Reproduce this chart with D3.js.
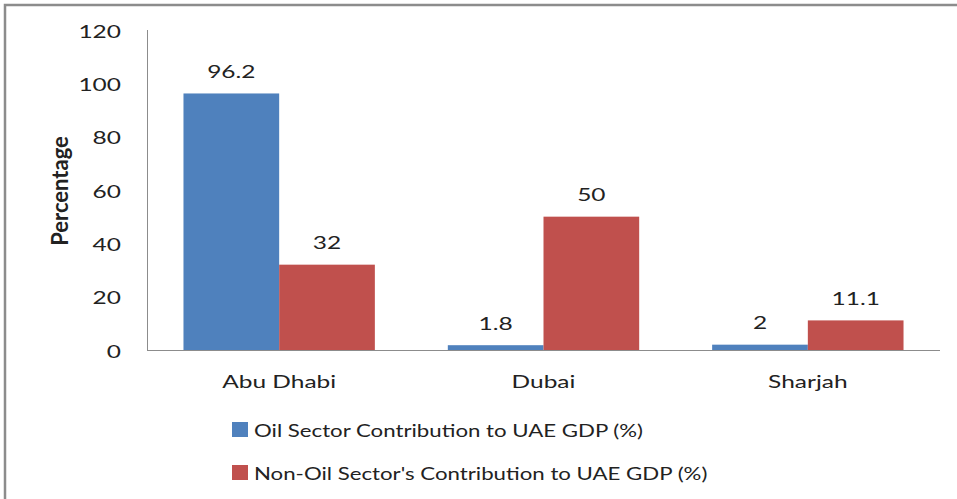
<!DOCTYPE html>
<html><head><meta charset="utf-8">
<script src="https://cdn.jsdelivr.net/npm/d3@7"></script>
<style>html,body{margin:0;padding:0;background:#fff;}svg{display:block;}</style>
</head><body><svg id="c" width="957" height="499"></svg>
<script>
const categories = ["Abu Dhabi", "Dubai", "Sharjah"];
const seriesNames = ["Oil Sector Contribution to UAE GDP (%)", "Non-Oil Sector's Contribution to UAE GDP (%)"];
const oilValues = [96.2, 1.8, 2];
const nonOilValues = [32, 50, 11.1];
const yTicks = [0, 20, 40, 60, 80, 100, 120];
const colors = ["#4F81BD", "#C0504D"];

const svg = d3.select("#c");
const FONT = "Lato, 'Open Sans', sans-serif";
const SX = 1.40; // horizontal stretch of the reference
const TXT = "#222";

function txt(g, x, yy, s, size, anchor, sx) {
  return g.append("g").attr("transform", `translate(${x},${yy}) scale(${sx || SX},1)`)
    .append("text").text(s).attr("font-family", FONT).attr("font-size", size)
    .attr("fill", TXT).attr("text-anchor", anchor || "middle");
}

// outer border
svg.append("rect").attr("x", 5).attr("y", 5).attr("width", 1000).attr("height", 600)
  .attr("fill", "none").attr("stroke", "#8c8c8c").attr("stroke-width", 2.5);

const pLeft = 147, pRight = 940, pTop = 30, pBottom = 350;
const x0 = d3.scaleBand().domain(categories).range([pLeft, pRight]).paddingInner(0.276).paddingOuter(0.138);
const x1 = d3.scaleBand().domain([0, 1]).range([0, x0.bandwidth()]);
const y = d3.scaleLinear().domain([0, 120]).range([pBottom, pTop]);

// y tick labels
const gy = svg.append("g");
yTicks.forEach(v => txt(gy, 121, y(v) + 7.5, String(v), 17.5, "end"));

// bars
const data = categories.map((c, i) => ({c, vals: [oilValues[i], nonOilValues[i]]}));
const gb = svg.append("g");
data.forEach(d => {
  d.vals.forEach((v, s) => {
    gb.append("rect").attr("x", x0(d.c) + x1(s)).attr("y", y(v))
      .attr("width", x1.bandwidth()).attr("height", y(0) - y(v)).attr("fill", colors[s]);
    txt(gb, x0(d.c) + x1(s) + x1.bandwidth() / 2, y(v) - 15.5, String(v), 17.5, "middle");
  });
});

// axes lines
svg.append("line").attr("x1", pLeft + 0.5).attr("x2", pLeft + 0.5).attr("y1", pTop).attr("y2", pBottom)
  .attr("stroke", "#8c8c8c").attr("stroke-width", 1);
svg.append("line").attr("x1", pLeft).attr("x2", pRight).attr("y1", pBottom + 0.5).attr("y2", pBottom + 0.5)
  .attr("stroke", "#8c8c8c").attr("stroke-width", 1);

// category labels
categories.forEach(c => txt(svg, x0(c) + x0.bandwidth() / 2, 388, c, 17.5, "middle"));

// y title
svg.append("text").attr("transform", "translate(68,191) rotate(-90)")
  .attr("text-anchor", "middle").attr("font-family", FONT).attr("font-size", 22)
  .attr("font-weight", "bold").attr("fill", TXT).text("Percentage");

// legend
const legY = [422, 465];
seriesNames.forEach((n, i) => {
  svg.append("rect").attr("x", 232).attr("y", legY[i]).attr("width", 16).attr("height", 15).attr("fill", colors[i]);
  txt(svg, 254, legY[i] + 15, n, 17.5, "start", 1.27);
});
</script></body></html>
